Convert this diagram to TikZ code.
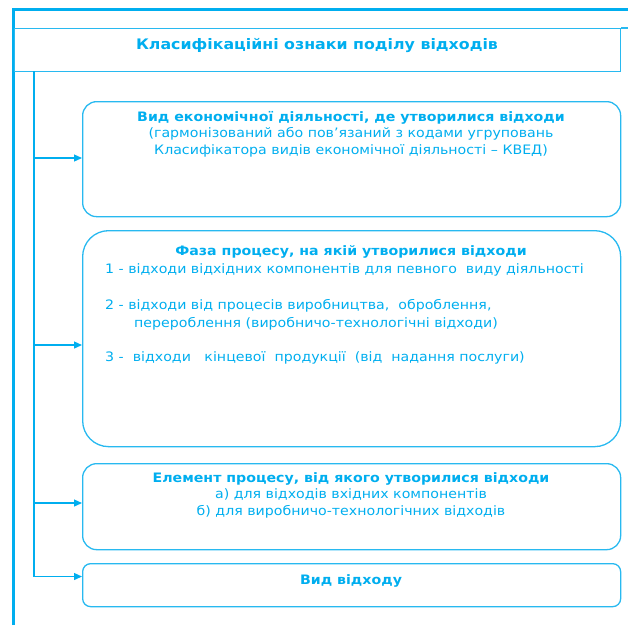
\documentclass[tikz,border=0pt]{standalone}
\usepackage{fontspec}
\setmainfont{DejaVu Sans}[FakeStretch=1.09]
\usetikzlibrary{arrows.meta}
\definecolor{cy}{RGB}{0,174,239}
\definecolor{cyl}{RGB}{40,185,240}
\tikzset{
  frame/.style={draw=cy, line width=3pt},
  tbox/.style={draw=cyl, line width=1.3pt, minimum width=606pt, minimum height=43pt, anchor=north west, inner sep=0pt},
  rbox/.style={draw=cyl, line width=1.3pt, rounded corners=#1, minimum width=538pt, anchor=north west, inner sep=0pt},
  trunk/.style={draw=cy, line width=1.8pt},
  arr/.style={draw=cy, line width=1.3pt, -{Triangle[length=8pt,width=7pt]}},
  head/.style={text=cy, font=\bfseries\fontsize{13}{16}\selectfont, inner sep=0pt},
  body/.style={text=cy, font=\fontsize{13}{17.5}\selectfont, inner sep=0pt},
}
\begin{document}
\begin{tikzpicture}[x=1pt,y=-1pt]
\useasboundingbox (0,0) rectangle (628,625);
% outer frame
\coordinate (fb) at (13,625);
\coordinate (ft) at (13,9);
\coordinate (fr) at (628,9);
\draw[frame] (fb) -- (ft) -- (fr);
% title box
\node[tbox] (title) at (14,28) {};
\coordinate (tr) at (628,28);
\draw[draw=cyl, line width=1.3pt] (title.north east) -- (tr);
\node[head, font=\bfseries\fontsize{14.5}{17}\selectfont] (ttext) at (317,46) {Класифікаційні ознаки поділу відходів};
% boxes
\node[rbox=14pt, minimum height=115pt] (b1) at (82,101) {};
\node[rbox=26pt, minimum height=216pt] (b2) at (82,230) {};
\node[rbox=14pt, minimum height=86pt] (b3) at (82,463) {};
\node[rbox=8pt, minimum height=43pt] (b4) at (82,563) {};
% texts
\node[head] (h1) at (351,118) {Вид економічної діяльності, де утворилися відходи};
\node[body, align=center, anchor=north] (t1) at (351,127) {(гармонізований або пов\symbol{39}язаний з кодами угруповань\\Класифікатора видів економічної діяльності – КВЕД)};
\node[head] (h2) at (351,252) {Фаза процесу, на якій утворилися відходи};
\node[body, anchor=west] (l1) at (105,270) {1 - відходи відхідних компонентів для певного\ \ виду діяльності};
\node[body, anchor=west] (l2) at (105,306) {2 - відходи від процесів виробництва,\ \ оброблення,};
\node[body, anchor=west] (l3) at (134,324) {перероблення (виробничо-технологічні відходи)};
\node[body, anchor=west] (l4) at (105,358) {3 -\ \ відходи\ \ \ кінцевої\ \ продукції\ \ (від\ \ надання послуги)};
\node[head] (h3) at (351,479) {Елемент процесу, від якого утворилися відходи};
\node[body, align=center, anchor=north] (t3) at (351,488) {а) для відходів вхідних компонентів\\б) для виробничо-технологічних відходів};
\node[head] (h4) at (351,581) {Вид відходу};
% trunk and arrows
\coordinate (tt) at (34,71);
\coordinate (tb) at (34,576.5);
\draw[trunk] (tt) -- (tb);
\coordinate (a1) at (34,158);
\coordinate (a2) at (34,345);
\coordinate (a3) at (34,503);
\draw[arr] (a1) -- (a1 -| b1.west);
\draw[arr] (a2) -- (a2 -| b2.west);
\draw[arr] (a3) -- (a3 -| b3.west);
\draw[arr] (tb) -- (tb -| b4.west);
\end{tikzpicture}
\end{document}
